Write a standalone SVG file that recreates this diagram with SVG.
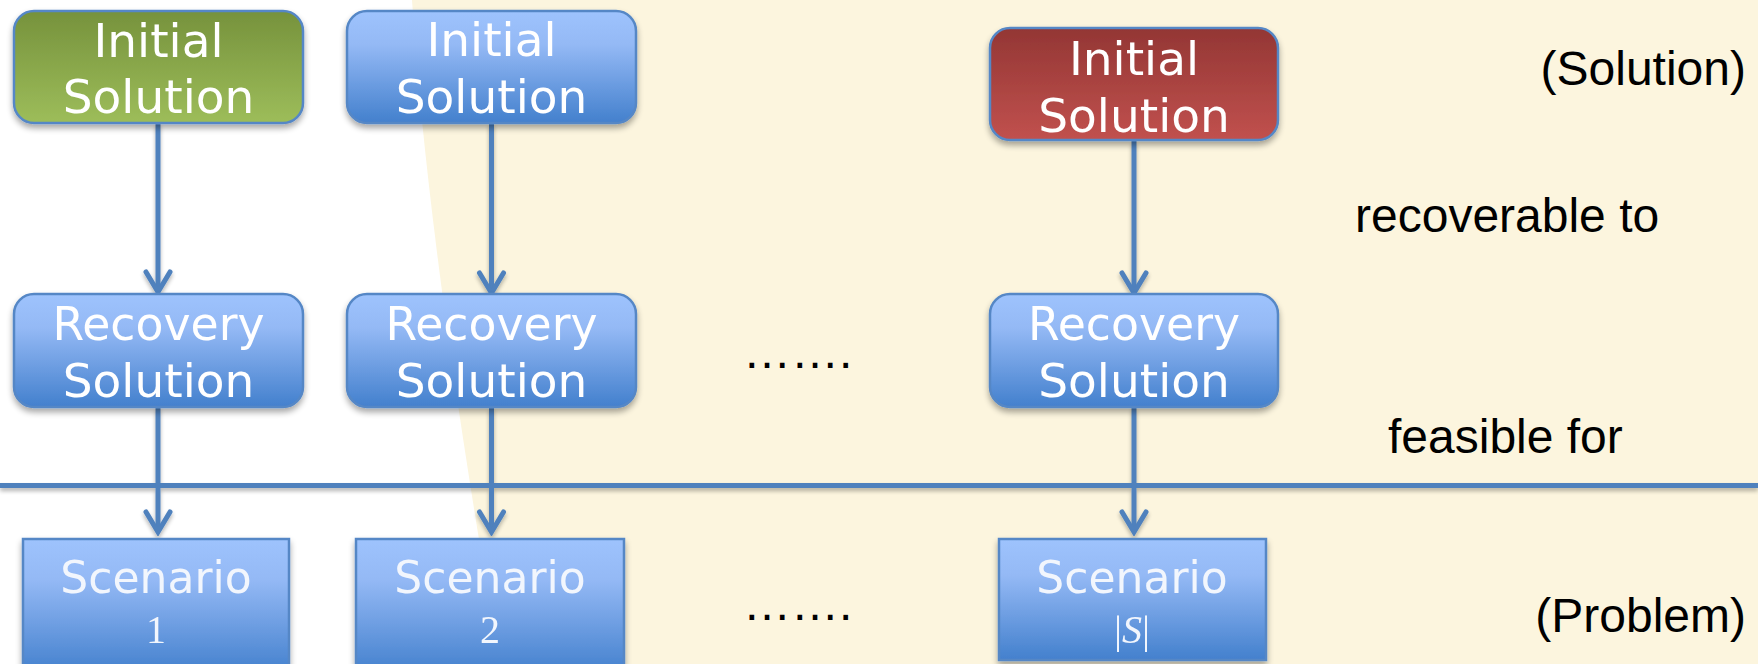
<svg xmlns="http://www.w3.org/2000/svg" width="1758" height="664" viewBox="0 0 1758 664">
<defs>
<linearGradient id="gBlue" x1="0" y1="0" x2="0" y2="1">
<stop offset="0" stop-color="#9EC3FD"/>
<stop offset="0.3" stop-color="#94B9F5"/>
<stop offset="1" stop-color="#4380CD"/>
</linearGradient>
<linearGradient id="gGreen" x1="0" y1="0" x2="0" y2="1">
<stop offset="0" stop-color="#76923C"/>
<stop offset="1" stop-color="#9DBD5A"/>
</linearGradient>
<linearGradient id="gRed" x1="0" y1="0" x2="0" y2="1">
<stop offset="0" stop-color="#933634"/>
<stop offset="1" stop-color="#C1514E"/>
</linearGradient>
<filter id="sh" x="-10%" y="-10%" width="120%" height="130%">
<feGaussianBlur in="SourceAlpha" stdDeviation="3"/>
<feOffset dx="0" dy="4" result="b"/>
<feComponentTransfer><feFuncA type="linear" slope="0.35"/></feComponentTransfer>
<feMerge><feMergeNode/><feMergeNode in="SourceGraphic"/></feMerge>
</filter>
<filter id="shl" x="-5%" y="-50%" width="110%" height="300%">
<feGaussianBlur in="SourceAlpha" stdDeviation="2"/>
<feOffset dx="0" dy="3" result="b"/>
<feComponentTransfer><feFuncA type="linear" slope="0.3"/></feComponentTransfer>
<feMerge><feMergeNode/><feMergeNode in="SourceGraphic"/></feMerge>
</filter>
<marker id="chev" markerUnits="userSpaceOnUse" viewBox="-26 -16 30 32" refX="0" refY="0" markerWidth="30" markerHeight="32" orient="auto">
<path d="M-20,-12 L0,0 L-20,12" fill="none" stroke="#4F81BD" stroke-width="5" stroke-linecap="round" stroke-linejoin="miter"/>
</marker>
<style>
.box{stroke:#5587C6;stroke-width:2.5}
.blue{fill:url(#gBlue)}
.green{fill:url(#gGreen)}
.red{fill:url(#gRed)}
.bt{font-family:"DejaVu Sans",Verdana,sans-serif;font-size:47px;fill:#FFFFFF;text-anchor:middle}
.st{font-family:"DejaVu Sans",Verdana,sans-serif;font-size:44px;fill:#F2F6FD;text-anchor:middle}
.num{font-family:"Liberation Serif",serif;font-size:40px;fill:#F2F6FD;text-anchor:middle}
.lab{font-family:"Liberation Sans",Arial,sans-serif;font-size:48px;fill:#000000}
.dots{font-family:"Liberation Sans",Arial,sans-serif;font-size:48px;fill:#000000}
.conn{stroke:#4F81BD;stroke-width:5;fill:none}
</style>
</defs>
<rect x="0" y="0" width="1758" height="664" fill="#FFFFFF"/>
<path d="M412,0 Q428,250 500,664 L1758,664 L1758,0 Z" fill="#FCF5DE"/>

<g id="connectors" filter="url(#shl)">
<line class="conn" x1="0" y1="485.5" x2="1758" y2="485.5"/>
<line class="conn" x1="158" y1="123" x2="158" y2="292" marker-end="url(#chev)"/>
<line class="conn" x1="491.5" y1="123" x2="491.5" y2="293" marker-end="url(#chev)"/>
<line class="conn" x1="1134" y1="141" x2="1134" y2="293" marker-end="url(#chev)"/>
<line class="conn" x1="158" y1="407" x2="158" y2="532" marker-end="url(#chev)"/>
<line class="conn" x1="491.5" y1="407" x2="491.5" y2="532" marker-end="url(#chev)"/>
<line class="conn" x1="1134" y1="407" x2="1134" y2="532" marker-end="url(#chev)"/>
</g>

<g id="init1" filter="url(#sh)">
<rect class="box green" x="14" y="11" width="289" height="112" rx="20"/>
<text class="bt" x="158.5" y="57">Initial</text>
<text class="bt" x="158.5" y="113">Solution</text>
</g>
<g id="init2" filter="url(#sh)">
<rect class="box blue" x="347" y="11" width="289" height="112" rx="20"/>
<text class="bt" x="491.5" y="56">Initial</text>
<text class="bt" x="491.5" y="113">Solution</text>
</g>
<g id="init3" filter="url(#sh)">
<rect class="box red" x="990" y="28" width="288" height="112" rx="20"/>
<text class="bt" x="1134" y="75">Initial</text>
<text class="bt" x="1134" y="132">Solution</text>
</g>

<g id="rec1" filter="url(#sh)">
<rect class="box blue" x="14" y="294" width="289" height="113" rx="20"/>
<text class="bt" x="158.5" y="340" textLength="212" lengthAdjust="spacingAndGlyphs">Recovery</text>
<text class="bt" x="158.5" y="397">Solution</text>
</g>
<g id="rec2" filter="url(#sh)">
<rect class="box blue" x="347" y="294" width="289" height="113" rx="20"/>
<text class="bt" x="491.5" y="340" textLength="212" lengthAdjust="spacingAndGlyphs">Recovery</text>
<text class="bt" x="491.5" y="397">Solution</text>
</g>
<g id="rec3" filter="url(#sh)">
<rect class="box blue" x="990" y="294" width="288" height="113" rx="20"/>
<text class="bt" x="1134" y="340" textLength="212" lengthAdjust="spacingAndGlyphs">Recovery</text>
<text class="bt" x="1134" y="397">Solution</text>
</g>

<g id="sc1" filter="url(#sh)">
<rect class="box blue" x="23" y="539" width="266" height="135"/>
<text class="st" x="156" y="593">Scenario</text>
<text class="num" x="156" y="643">1</text>
</g>
<g id="sc2" filter="url(#sh)">
<rect class="box blue" x="356" y="539" width="268" height="135"/>
<text class="st" x="490" y="593">Scenario</text>
<text class="num" x="490" y="643">2</text>
</g>
<g id="sc3" filter="url(#sh)">
<rect class="box blue" x="999" y="539" width="267" height="121"/>
<text class="st" x="1132" y="593">Scenario</text>
<text class="num" x="1132" y="643">|<tspan font-style="italic">S</tspan>|</text>
</g>

<g id="labels">
<text class="dots" x="743" y="368">…….</text>
<text class="dots" x="743" y="620">…….</text>
<text class="lab" x="1746" y="85" text-anchor="end">(Solution)</text>
<text class="lab" x="1355" y="232">recoverable to</text>
<text class="lab" x="1388" y="453">feasible for</text>
<text class="lab" x="1746" y="632" text-anchor="end">(Problem)</text>
</g>
</svg>
